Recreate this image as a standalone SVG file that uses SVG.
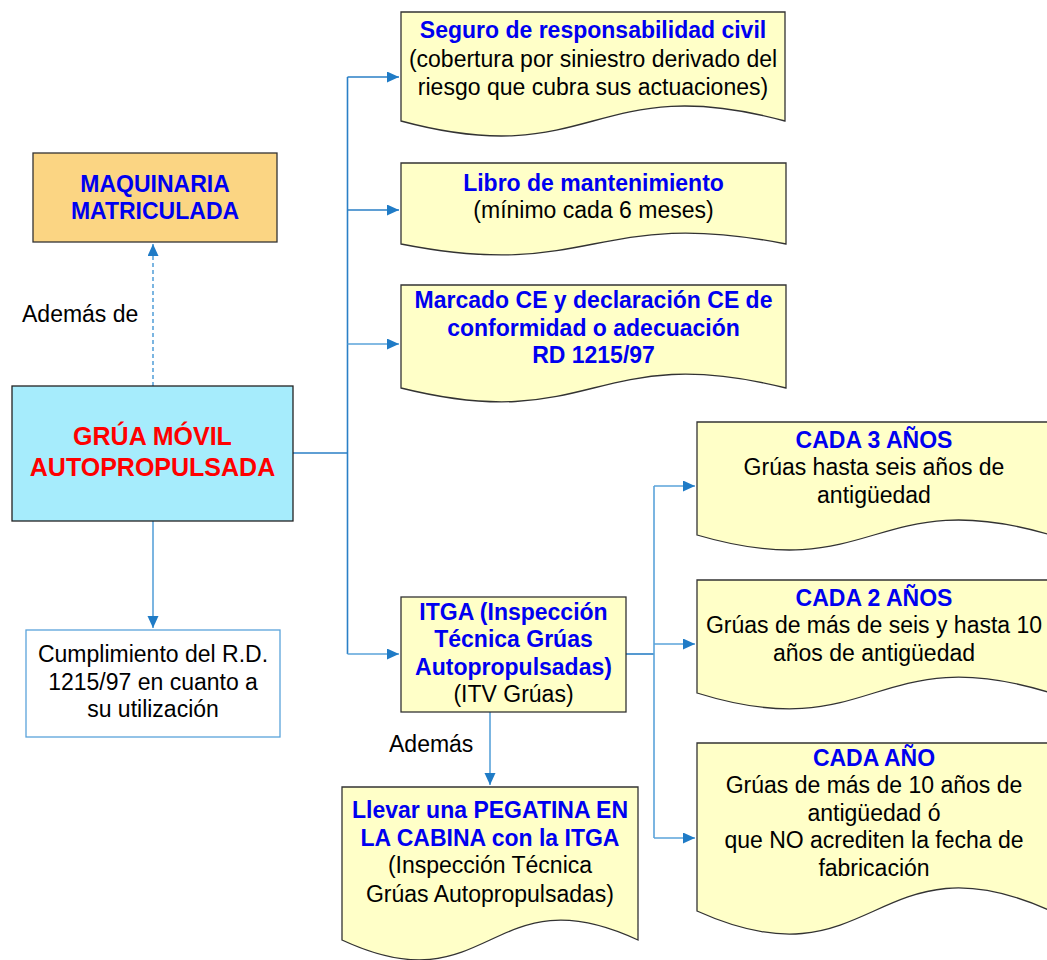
<svg xmlns="http://www.w3.org/2000/svg" width="1047" height="960" viewBox="0 0 1047 960">
<style>
text{font-family:"Liberation Sans",Arial,sans-serif;font-size:23px;text-anchor:middle;fill:#000}
.b{font-weight:bold;fill:#0000F0}
.r{font-weight:bold;fill:#FF0000;font-size:25px}
.doc{fill:#FFFFC8;stroke:#333;stroke-width:1.3}
.c{fill:none;stroke:#2A7FC6;stroke-width:1.6}
.cl{fill:none;stroke:#5AA3DA;stroke-width:1.6}
.lbl{text-anchor:start}
</style>
<defs>
<marker id="ah" markerUnits="userSpaceOnUse" markerWidth="14" markerHeight="12" refX="12" refY="5.5" orient="auto">
<path d="M0,0 L12,5.5 L0,11 Z" fill="#1F7BC6"/>
</marker>
</defs>
<rect width="1047" height="960" fill="#fff"/>

<g id="connectors">
<path class="c" d="M293,453 H347.5"/>
<path class="c" d="M347.5,77 V654"/>
<path class="c" d="M347.5,77 H399" marker-end="url(#ah)"/>
<path class="c" d="M347.5,210 H399" marker-end="url(#ah)"/>
<path class="cl" d="M347.5,344 H399" marker-end="url(#ah)"/>
<path class="cl" d="M347.5,654 H399" marker-end="url(#ah)"/>
<path class="cl" d="M153,386 V244" stroke-dasharray="4,3" marker-end="url(#ah)"/>
<path class="cl" d="M153,521 V628" marker-end="url(#ah)"/>
<path class="c" d="M626,654 H654"/>
<path class="cl" d="M654,486 V838"/>
<path class="cl" d="M654,486 H695" marker-end="url(#ah)"/>
<path class="cl" d="M654,644 H695" marker-end="url(#ah)"/>
<path class="cl" d="M654,838 H695" marker-end="url(#ah)"/>
<path class="cl" d="M490,712 V785" marker-end="url(#ah)"/>
<text class="lbl" x="22" y="322">Además de</text>
<text class="lbl" x="389" y="752">Además</text>
</g>

<g id="seguro">
<path class="doc" d="M401,12 H785 V121 C593,69 593,173 401,121 Z"/>
<text class="b" x="593" y="38">Seguro de responsabilidad civil</text>
<text x="593" y="66.5">(cobertura por siniestro derivado del</text>
<text x="593" y="95">riesgo que cubra sus actuaciones)</text>
</g>

<g id="libro">
<path class="doc" d="M401,163 H786 V244 C593.5,206 593.5,282 401,244 Z"/>
<text class="b" x="593.5" y="191">Libro de mantenimiento</text>
<text x="593.5" y="218">(mínimo cada 6 meses)</text>
</g>

<g id="marcado">
<path class="doc" d="M401,285 H786 V388 C593.5,340 593.5,436 401,388 Z"/>
<text class="b" x="593.5" y="308">Marcado CE y declaración CE de</text>
<text class="b" x="593.5" y="336">conformidad o adecuación</text>
<text class="b" x="593.5" y="363">RD 1215/97</text>
</g>

<g id="maquinaria">
<rect x="33" y="153" width="244" height="89" fill="#FBD583" stroke="#333" stroke-width="1.3"/>
<text class="b" x="155" y="192">MAQUINARIA</text>
<text class="b" x="155" y="219">MATRICULADA</text>
</g>

<g id="grua">
<rect x="12" y="386" width="281" height="135" fill="#A6ECFC" stroke="#222" stroke-width="1.3"/>
<text class="r" x="152.5" y="445">GRÚA MÓVIL</text>
<text class="r" x="152.5" y="475.5">AUTOPROPULSADA</text>
</g>

<g id="cumplimiento">
<rect x="26" y="630" width="254" height="107" fill="#fff" stroke="#5AA3DA" stroke-width="1.3"/>
<text x="153" y="661.5">Cumplimiento del R.D.</text>
<text x="153" y="690">1215/97 en cuanto a</text>
<text x="153" y="716.5">su utilización</text>
</g>

<g id="itga">
<rect x="401" y="597" width="225" height="115" fill="#FFFFC8" stroke="#333" stroke-width="1.3"/>
<text class="b" x="513.5" y="620">ITGA (Inspección</text>
<text class="b" x="513.5" y="647">Técnica Grúas</text>
<text class="b" x="513.5" y="675">Autopropulsadas)</text>
<text x="513.5" y="701.5">(ITV Grúas)</text>
</g>

<g id="pegatina">
<path class="doc" d="M342,787 H638 V940 C490,871 490,1009 342,940 Z"/>
<text class="b" x="490" y="818">Llevar una PEGATINA EN</text>
<text class="b" x="490" y="846">LA CABINA con la ITGA</text>
<text x="490" y="873">(Inspección Técnica</text>
<text x="490" y="901.5">Grúas Autopropulsadas)</text>
</g>

<g id="cada3">
<path class="doc" d="M697,422 H1051 V535 C874,483 874,587 697,535 Z"/>
<text class="b" x="874" y="448">CADA 3 AÑOS</text>
<text x="874" y="475">Grúas hasta seis años de</text>
<text x="874" y="502.5">antigüedad</text>
</g>

<g id="cada2">
<path class="doc" d="M697,580 H1051 V693 C874,638 874,748 697,693 Z"/>
<text class="b" x="874" y="606">CADA 2 AÑOS</text>
<text x="874" y="633">Grúas de más de seis y hasta 10</text>
<text x="874" y="660.5">años de antigüedad</text>
</g>

<g id="cada1">
<path class="doc" d="M697,743 H1051 V911 C874,831 874,991 697,911 Z"/>
<text class="b" x="874" y="766">CADA AÑO</text>
<text x="874" y="793">Grúas de más de 10 años de</text>
<text x="874" y="820.5">antigüedad ó</text>
<text x="874" y="848">que NO acrediten la fecha de</text>
<text x="874" y="876">fabricación</text>
</g>
</svg>
